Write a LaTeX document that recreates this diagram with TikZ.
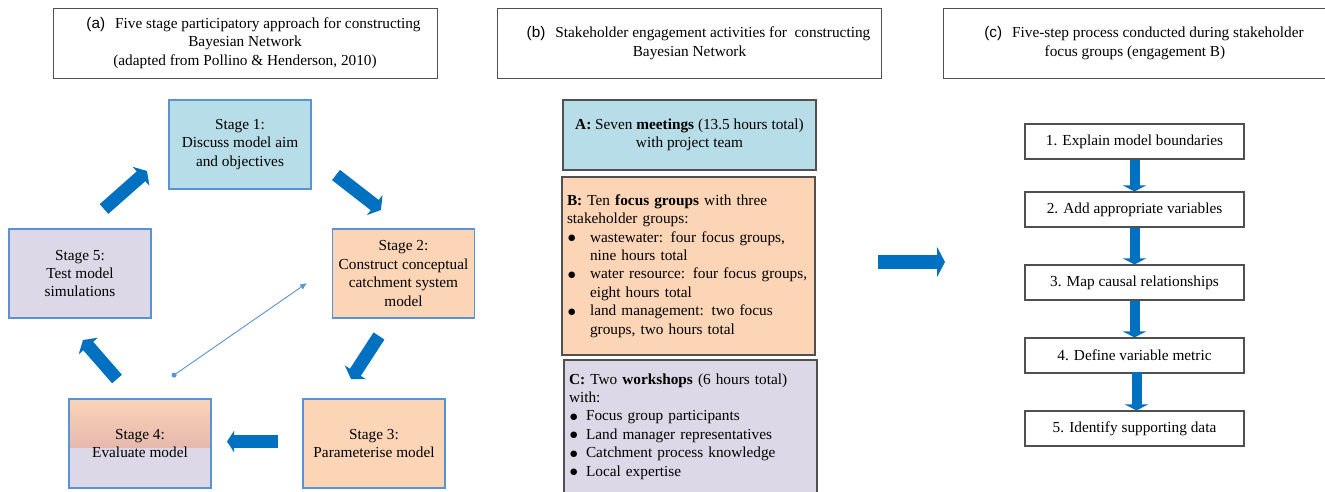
\documentclass[tikz,border=0pt]{standalone}
\usepackage{fontspec}
\setmainfont{Liberation Serif}
\setsansfont{Liberation Sans}
\newfontfamily\dejavufont{DejaVu Sans}
\usetikzlibrary{arrows.meta}
\definecolor{arrowblue}{RGB}{0,112,192}
\definecolor{stageline}{RGB}{88,148,212}
\definecolor{bluefill}{RGB}{183,221,232}
\definecolor{orangefill}{RGB}{251,213,181}
\definecolor{lavfill}{RGB}{221,216,231}
\definecolor{sfourtop}{RGB}{249,212,183}
\definecolor{sfourmid}{RGB}{230,184,174}
\definecolor{boxgray}{RGB}{80,80,80}
\newcommand\mydot{\raisebox{1.6pt}{\dejavufont\fontsize{8.5}{8.5}\selectfont ●}}
\newcommand\mybulB{\makebox[23pt][l]{\hspace{1pt}\mydot}}
\newcommand\myindB{\hspace*{23pt}}
\newcommand\mybulC{\makebox[17pt][l]{\hspace{1pt}\mydot}}
\tikzset{
  stagebox/.style={draw=stageline, line width=1.1pt, minimum width=142pt, minimum height=89pt, inner sep=0pt, align=center},
  titlebox/.style={draw=boxgray, line width=1pt, minimum width=384pt, minimum height=70pt, inner sep=0pt, align=center},
  actbox/.style={draw=boxgray, line width=1.4pt, minimum width=253pt, inner sep=0pt},
  stepbox/.style={draw=boxgray, line width=1.1pt, fill=white, minimum width=219pt, minimum height=35pt, inner sep=0pt, align=center},
  diagarrow/.style={arrowblue, line width=13pt, -{Triangle[width=25pt,length=8pt]}},
  horarrow/.style={arrowblue, line width=13pt, -{Triangle[width=21pt,length=7pt]}},
  bigarrow/.style={arrowblue, line width=14pt, -{Triangle[width=30pt,length=8pt]}},
  downarrow/.style={arrowblue, line width=10pt, -{Triangle[width=23pt,length=6pt]}},
  thinarrow/.style={stageline, line width=0.9pt, {Circle[length=5pt]}-{Latex[length=7pt,width=6pt]}}
}
\begin{document}
\begin{tikzpicture}[x=1pt, y=-1pt, font=\fontsize{15.3}{18.4}\selectfont]
\useasboundingbox (0,0) rectangle (1325,491);
\fill[white] (0,0) rectangle (1325,491);
\clip (0,0) rectangle (1325,491);

% ---------- panel (a) ----------
\node[titlebox] (ta) at (245,43) {\hspace*{17pt}{\sffamily(a)}\hspace{10pt}Five stage participatory approach for constructing\\ Bayesian Network\\ (adapted from Pollino \& Henderson, 2010)};

\node[stagebox, fill=bluefill] (s1) at (240,144.5) {Stage 1:\\ Discuss model aim\\ and objectives};
\node[stagebox, fill=orangefill] (s2) at (403.5,273.5) {Stage 2:\\ Construct conceptual\\ catchment system\\ model};
\node[stagebox, fill=orangefill] (s3) at (374,443.5) {Stage 3:\\ Parameterise model};
\shade[top color=sfourtop, bottom color=sfourmid] (69,399) rectangle (211,448);
\fill[lavfill] (69,448) rectangle (211,488);
\node[stagebox] (s4) at (140,443.5) {Stage 4:\\ Evaluate model};
\node[stagebox, fill=lavfill] (s5) at (80,273.5) {Stage 5:\\ Test model\\ simulations};

\coordinate (a51s) at (104,209);
\coordinate (a51e) at (147,171);
\coordinate (a12s) at (336,175);
\coordinate (a12e) at (381,210);
\coordinate (a23s) at (379,336);
\coordinate (a23e) at (351,379);
\coordinate (a34s) at (278,441.5);
\coordinate (a34e) at (227,441.5);
\coordinate (a45s) at (117,379);
\coordinate (a45e) at (83,340);
\draw[diagarrow] (a51s) -- (a51e);
\draw[diagarrow] (a12s) -- (a12e);
\draw[diagarrow] (a23s) -- (a23e);
\draw[horarrow] (a34s) -- (a34e);
\draw[diagarrow] (a45s) -- (a45e);

\coordinate (fbs) at (172,376.5);
\coordinate (fbe) at (307,283);
\draw[thinarrow] (fbs) -- (fbe);

% ---------- panel (b) ----------
\node[titlebox] (tb) at (689.5,43) {\hspace*{18pt}{\sffamily(b)}\hspace{10pt}Stakeholder engagement activities for\ \ constructing\\ Bayesian Network};

\node[actbox, fill=bluefill, minimum height=70pt, align=center] (ea) at (689.5,135) {\textbf{A:} Seven \textbf{meetings} (13.5 hours total)\\ with project team};

\node[actbox, fill=orangefill, minimum height=178pt, text width=243pt, align=left] (eb) at (688.5,266) {\textbf{B:} Ten \textbf{focus groups} with three\\
stakeholder groups:\\
\mybulB wastewater: four focus groups,\\
\myindB nine hours total\\
\mybulB water resource: four focus groups,\\
\myindB eight hours total\\
\mybulB land management: two focus\\
\myindB groups, two hours total};

\node[actbox, fill=lavfill, minimum height=133pt, text width=243pt, align=left] (ec) at (690.5,426.5) {\textbf{C:} Two \textbf{workshops} (6 hours total)\\
with:\\
\mybulC Focus group participants\\
\mybulC Land manager representatives\\
\mybulC Catchment process knowledge\\
\mybulC Local expertise};

\coordinate (bcs) at (878,262);
\coordinate (bce) at (945,262);
\draw[bigarrow] (bcs) -- (bce);

% ---------- panel (c) ----------
\node[titlebox] (tc) at (1135,43) {\hspace*{18pt}{\sffamily(c)}\hspace{10pt}Five-step process conducted during stakeholder\\ focus groups (engagement B)};

\node[stepbox] (c1) at (1134.5,141.5) {1. Explain model boundaries};
\node[stepbox] (c2) at (1134.5,209.5) {2. Add appropriate variables};
\node[stepbox] (c3) at (1134.5,282.5) {3. Map causal relationships};
\node[stepbox] (c4) at (1134.5,355.5) {4. Define variable metric};
\node[stepbox] (c5) at (1134.5,428.5) {5. Identify supporting data};

\draw[downarrow] (c1.south) -- (c2.north);
\draw[downarrow] (c2.south) -- (c3.north);
\draw[downarrow] (c3.south) -- (c4.north);
\draw[downarrow] ([xshift=2pt,yshift=2pt]c4.south) -- ([xshift=2pt]c5.north);
\end{tikzpicture}
\end{document}
